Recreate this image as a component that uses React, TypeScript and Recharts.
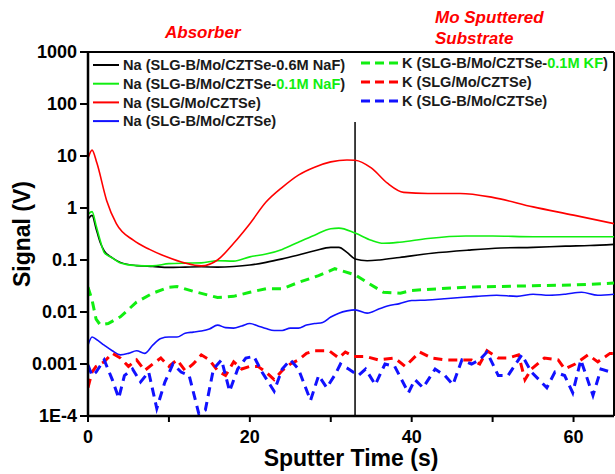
import {
  LineChart,
  Line,
  XAxis,
  YAxis,
  ReferenceLine,
} from "recharts";

// Sputter time (s) and signal (V)
const naBlackT = [0, 0.5, 1, 1.5, 2, 3, 4, 6, 8, 10, 12, 14, 16, 18, 20, 22, 24, 26, 28, 30, 31, 32, 33, 34.5, 36, 38.5, 42.5, 47, 51, 55, 59, 62, 65];
const naBlackV = [0.6, 0.72, 0.4, 0.22, 0.15, 0.11, 0.09, 0.078, 0.075, 0.072, 0.073, 0.074, 0.073, 0.075, 0.08, 0.09, 0.105, 0.125, 0.15, 0.175, 0.175, 0.14, 0.105, 0.097, 0.1, 0.112, 0.135, 0.155, 0.17, 0.175, 0.185, 0.19, 0.2];

const naGreenT = [0, 0.5, 1, 1.5, 2, 3, 4, 6, 8, 10, 12, 14, 16, 18, 20, 22, 24, 26, 28, 30, 31, 33, 35, 36.5, 38.5, 42, 46.7, 50, 55, 60, 65];
const naGreenV = [0.75, 0.85, 0.46, 0.24, 0.14, 0.11, 0.088, 0.078, 0.077, 0.085, 0.087, 0.088, 0.097, 0.095, 0.115, 0.13, 0.16, 0.22, 0.3, 0.4, 0.41, 0.33, 0.24, 0.21, 0.22, 0.26, 0.29, 0.29, 0.28, 0.28, 0.28];

const naRedT = [0, 0.5, 1.1, 2.3, 3.5, 5.6, 7.6, 9.7, 12, 14, 16, 18, 20, 22, 24, 26, 28, 30, 32, 33, 35, 37, 39, 42, 46, 50, 55, 60, 65];
const naRedV = [9, 13, 7.3, 1.4, 0.5, 0.24, 0.16, 0.115, 0.087, 0.077, 0.1, 0.21, 0.5, 1.3, 2.5, 4.3, 6.1, 7.7, 8.4, 8.3, 5.9, 3.0, 2.0, 1.9, 1.9, 1.6, 1.05, 0.73, 0.5];

const naBlueT = [0, 0.5, 1, 2, 3, 4, 5, 6, 7, 8, 9, 10, 11, 12, 13, 14, 15, 16, 17, 18, 19, 20, 21, 22, 23, 24, 25, 26, 27, 28, 29, 30, 31, 32, 33, 34.5, 36, 37, 38.5, 40, 42, 44, 46, 48, 50.5, 53, 55, 57, 59, 61, 63, 65];
const naBlueV = [0.0023, 0.0033, 0.003, 0.0023, 0.0018, 0.0015, 0.0016, 0.0018, 0.0016, 0.0023, 0.0031, 0.0033, 0.0033, 0.0039, 0.0041, 0.0043, 0.0047, 0.0056, 0.005, 0.0049, 0.0054, 0.006, 0.0054, 0.0048, 0.0044, 0.0044, 0.0049, 0.0049, 0.0056, 0.006, 0.0063, 0.008, 0.0095, 0.0105, 0.011, 0.0095, 0.0115, 0.013, 0.0145, 0.0166, 0.017, 0.018, 0.019, 0.02, 0.021, 0.02, 0.022, 0.021, 0.022, 0.024, 0.021, 0.022];

const kGreenT = [0, 0.5, 1, 1.5, 2.5, 4, 6, 8, 10, 11, 13, 16, 18, 20, 22, 24, 26, 28.5, 30.5, 33, 34.5, 36.5, 38.6, 40, 46.7, 55, 60, 65];
const kGreenV = [0.03, 0.017, 0.0073, 0.0057, 0.006, 0.0081, 0.0155, 0.023, 0.03, 0.031, 0.025, 0.019, 0.02, 0.024, 0.028, 0.028, 0.037, 0.05, 0.068, 0.052, 0.037, 0.024, 0.023, 0.026, 0.03, 0.032, 0.033, 0.036];

const kRedT = [0, 0.5, 1, 2, 3, 4, 5, 6, 7, 8, 9, 10, 11, 12, 13, 14, 15, 16, 17, 18, 19, 20, 21, 22, 23, 24, 25, 26, 27, 28, 29.8, 31, 31.8, 32.8, 34.3, 35.9, 37.9, 39.2, 41, 42.5, 44.1, 45.7, 47.4, 48.4, 49.3, 50.7, 51.9, 53.2, 54, 54.8, 56.4, 58.1, 58.9, 60.2, 61.8, 63, 64.5, 65];
const kRedV = [0.00035, 0.0007, 0.0009, 0.0011, 0.0016, 0.0013, 0.0009, 0.0012, 0.00075, 0.001, 0.0013, 0.0009, 0.0012, 0.00075, 0.001, 0.0015, 0.0012, 0.00075, 0.0006, 0.0011, 0.0008, 0.0009, 0.0009, 0.0007, 0.0005, 0.00075, 0.001, 0.0012, 0.0016, 0.0018, 0.0018, 0.0013, 0.0017, 0.0014, 0.0014, 0.0012, 0.0013, 0.0009, 0.0017, 0.0013, 0.0012, 0.0012, 0.0012, 0.001, 0.0018, 0.0013, 0.0013, 0.0015, 0.0005, 0.0008, 0.0013, 0.0012, 0.0008, 0.001, 0.0015, 0.0011, 0.0016, 0.0016];

const kBlueT = [0, 0.5, 1, 2, 3, 3.8, 4.5, 5.5, 6.5, 7.5, 8.5, 9.5, 10.5, 11.5, 12.5, 13.7, 14.5, 15.5, 16.5, 17.5, 18.5, 19.5, 20.5, 21.5, 23, 24, 25, 26, 27.5, 28.5, 29.5, 30.6, 31.2, 32.2, 33.4, 34.3, 35.5, 36.7, 37.9, 39.6, 40.4, 41.4, 42.9, 44.1, 45.1, 46.2, 47.4, 48.4, 49.3, 50.7, 51.9, 53.6, 54.8, 56.7, 57.7, 58.9, 59.9, 60.9, 62.4, 63.4, 64.6];
const kBlueV = [0.00095, 0.0006, 0.0007, 0.0012, 0.0005, 0.00022, 0.0006, 0.0008, 0.00045, 0.0007, 0.00014, 0.00045, 0.001, 0.0007, 0.0006, 0.00011, 0.00013, 0.0008, 0.0012, 0.0003, 0.0008, 0.0013, 0.0014, 0.0007, 0.0003, 0.0008, 0.0012, 0.0008, 0.0002, 0.0006, 0.00035, 0.00065, 0.001, 0.0008, 0.0006, 0.0008, 0.0004, 0.001, 0.0009, 0.00028, 0.0005, 0.00035, 0.0008, 0.0006, 0.0004, 0.0012, 0.001, 0.0012, 0.0017, 0.0006, 0.0006, 0.0015, 0.0007, 0.00035, 0.0007, 0.0006, 0.00028, 0.0012, 0.00025, 0.0008, 0.0007];

const xTicks = [0, 10, 20, 30, 40, 50, 60];
const yTicks = [0.0001, 0.001, 0.01, 0.1, 1, 10, 100, 1000];

const BLACK = "#000000";
const GREEN = "#11ee11";
const RED = "#ff0000";
const BLUE = "#1111ff";
const FONT = "'Liberation Sans', Arial, sans-serif";

const toPoints = (t: number[], v: number[]) => t.map((x, i) => ({ t: x, v: v[i] }));

const series = [
  { name: "naBlack", data: toPoints(naBlackT, naBlackV), color: BLACK, dashed: false },
  { name: "naGreen", data: toPoints(naGreenT, naGreenV), color: GREEN, dashed: false },
  { name: "naRed", data: toPoints(naRedT, naRedV), color: RED, dashed: false },
  { name: "naBlue", data: toPoints(naBlueT, naBlueV), color: BLUE, dashed: false },
  { name: "kGreen", data: toPoints(kGreenT, kGreenV), color: GREEN, dashed: true },
  { name: "kRed", data: toPoints(kRedT, kRedV), color: RED, dashed: true },
  { name: "kBlue", data: toPoints(kBlueT, kBlueV), color: BLUE, dashed: true },
];

// legend rows: [plain text, highlighted tail, line colour]
const naLegend = [
  ["Na (SLG-B/Mo/CZTSe-0.6M NaF)", "", BLACK],
  ["Na (SLG-B/Mo/CZTSe-", "0.1M NaF", GREEN],
  ["Na (SLG/Mo/CZTSe)", "", RED],
  ["Na (SLG-B/Mo/CZTSe)", "", BLUE],
];
const kLegend = [
  ["K (SLG-B/Mo/CZTSe-", "0.1M KF", GREEN],
  ["K (SLG/Mo/CZTSe)", "", RED],
  ["K (SLG-B/Mo/CZTSe)", "", BLUE],
];

const yFormat = (v: number) => (v < 0.0005 ? "1E-4" : String(v));
const xFormat = (v: number) => (v % 20 === 0 ? String(v) : "");

const tickStyle = { fontSize: 18, fontWeight: "bold", fill: "#000", fontFamily: FONT };
const titleStyle = { fontSize: 23, fontWeight: "bold", fill: "#000", fontFamily: FONT };

function Overlay() {
  const legendText = { fontSize: 14.6, fontWeight: "bold", fill: "#1a1a1a", fontFamily: FONT };
  return (
    <svg width={615} height={474} style={{ position: "absolute", left: 0, top: 0, pointerEvents: "none" }}>
      <g style={{ fontSize: 17, fontWeight: "bold", fontStyle: "italic", fill: RED, fontFamily: FONT }}>
        <text x={165} y={38}>Absorber</text>
        <text x={435} y={23}>Mo Sputtered</text>
        <text x={435} y={44}>Substrate</text>
      </g>
      {naLegend.map(([txt, tail, color], i) => {
        const y = 65 + i * 18.7;
        return (
          <g key={`na-${i}`}>
            <line x1={93} x2={119} y1={y} y2={y} stroke={color} strokeWidth={2} />
            <text x={123} y={y + 5.3} style={legendText}>
              {txt}
              {tail && <tspan fill={GREEN}>{tail}</tspan>}
              {tail && ")"}
            </text>
          </g>
        );
      })}
      {kLegend.map(([txt, tail, color], i) => {
        const y = 63 + i * 19;
        return (
          <g key={`k-${i}`}>
            <line x1={361} x2={400} y1={y} y2={y} stroke={color} strokeWidth={3} strokeDasharray="9 5" />
            <text x={402} y={y + 5.3} style={legendText}>
              {txt}
              {tail && <tspan fill={GREEN}>{tail}</tspan>}
              {tail && ")"}
            </text>
          </g>
        );
      })}
    </svg>
  );
}

export default function App() {
  return (
    <div style={{ position: "absolute", left: 0, top: 0, width: 615, height: 474, background: "#fff" }}>
      <LineChart width={615} height={474} margin={{ top: 52, right: 1, bottom: 0, left: 0 }}>
        <XAxis
          dataKey="t"
          type="number"
          domain={[0, 65]}
          allowDataOverflow
          ticks={xTicks}
          tickFormatter={xFormat}
          tick={tickStyle}
          tickSize={6}
          tickMargin={8}
          height={58}
          axisLine={{ stroke: "#000", strokeWidth: 2.5 }}
          tickLine={{ stroke: "#000", strokeWidth: 2 }}
          label={{ value: "Sputter Time (s)", position: "insideBottom", offset: 8, style: titleStyle }}
        />
        <YAxis
          dataKey="v"
          type="number"
          scale="log"
          domain={[0.0001, 1000]}
          allowDataOverflow
          ticks={yTicks}
          tickFormatter={yFormat}
          tick={tickStyle}
          tickSize={8}
          tickMargin={3}
          width={88}
          axisLine={{ stroke: "#000", strokeWidth: 2.5 }}
          tickLine={{ stroke: "#000", strokeWidth: 2 }}
          label={{
            value: "Signal (V)",
            angle: -90,
            position: "insideLeft",
            offset: 22,
            style: { ...titleStyle, textAnchor: "middle" },
          }}
        />
        <ReferenceLine y={1000} stroke="#000" strokeWidth={2} />
        <ReferenceLine x={65} stroke="#000" strokeWidth={2} />
        <ReferenceLine
          segment={[{ x: 33, y: 45 }, { x: 33, y: 0.0001 }]}
          stroke="#000"
          strokeWidth={1.5}
        />
        {series.map((s) => (
          <Line
            key={s.name}
            data={s.data}
            dataKey="v"
            type={s.dashed ? "linear" : "monotone"}
            stroke={s.color}
            strokeWidth={s.dashed ? 3 : 1.6}
            strokeDasharray={s.dashed ? "9 6" : undefined}
            dot={false}
            activeDot={false}
            isAnimationActive={false}
          />
        ))}
      </LineChart>
      <Overlay />
    </div>
  );
}
